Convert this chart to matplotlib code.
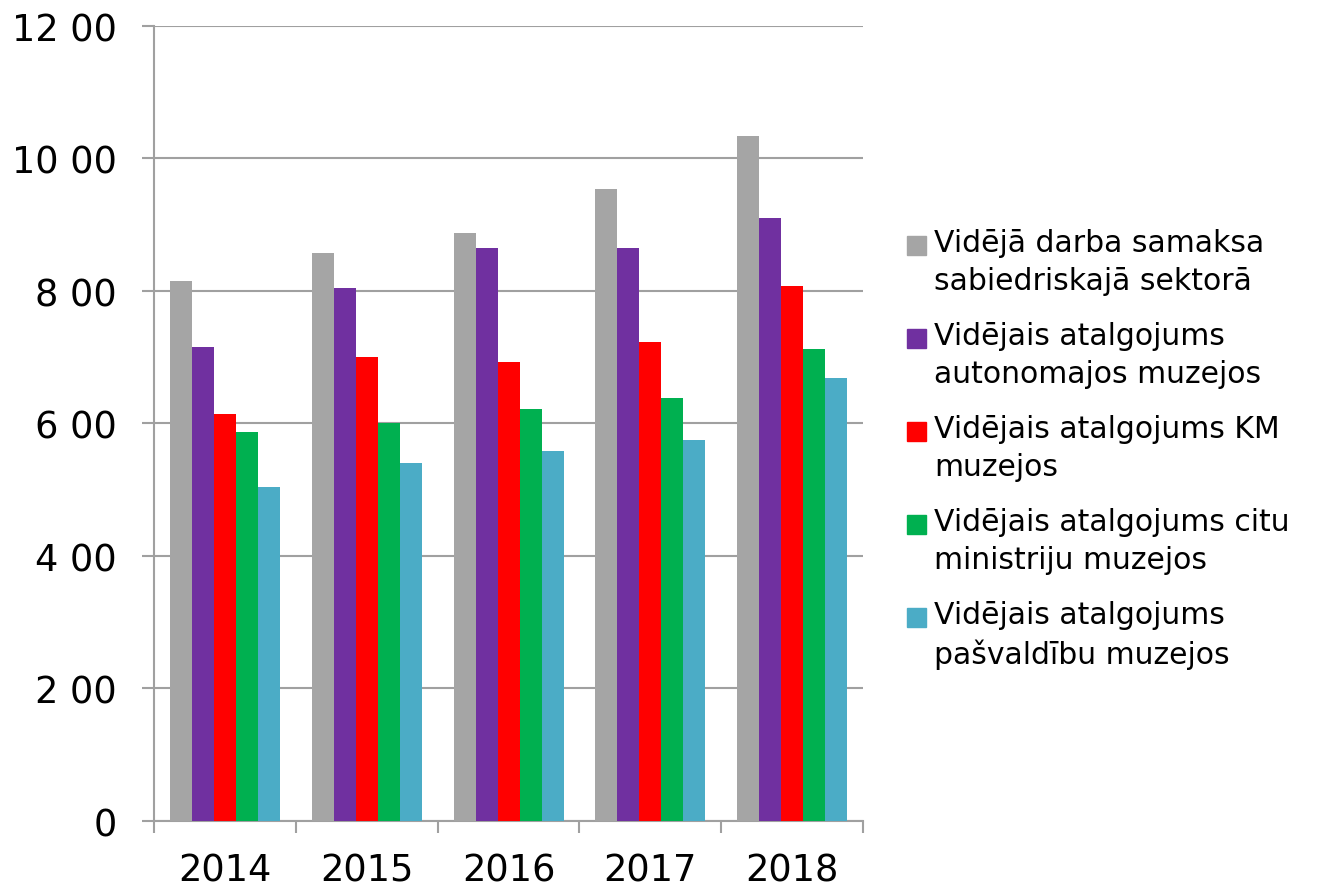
import matplotlib
matplotlib.use("Agg")
import matplotlib.pyplot as plt
from matplotlib.patches import Rectangle
import numpy as np

plt.rcParams['font.family'] = ['DejaVu Sans']

years = ["2014", "2015", "2016", "2017", "2018"]
series_names = [
    "Vidējā darba samaksa\nsabiedriskajā sektorā",
    "Vidējais atalgojums\nautonomajos muzejos",
    "Vidējais atalgojums KM\nmuzejos",
    "Vidējais atalgojums citu\nministriju muzejos",
    "Vidējais atalgojums\npašvaldību muzejos",
]
sabiedriskais = [815, 857, 888, 954, 1034]
autonomie = [715, 805, 865, 865, 910]
km_muzeji = [614, 700, 693, 723, 808]
citu_ministriju = [587, 601, 622, 638, 712]
pasvaldibu = [504, 540, 558, 575, 669]
series = [sabiedriskais, autonomie, km_muzeji, citu_ministriju, pasvaldibu]
colors = ["#A5A5A5", "#7030A0", "#FF0000", "#00B050", "#4BACC6"]
yticks = [0, 200, 400, 600, 800, 1000, 1200]
ytick_labels = ["0", "2 00", "4 00", "6 00", "8 00", "10 00", "12 00"]

fig = plt.figure(figsize=(13.23, 8.87), dpi=100)
ax = fig.add_axes([0.1164, 0.0733, 0.536, 0.8963])

x = np.arange(len(years))
w = 0.155
for i, (vals, c) in enumerate(zip(series, colors)):
    ax.bar(x + (i - 2) * w, vals, width=w, color=c, zorder=3)

ax.set_xlim(-0.5, len(years) - 0.5)
ax.set_ylim(0, 1200)
ax.set_yticks(yticks)
ax.set_yticklabels(ytick_labels, fontsize=26.5)
ax.set_xticks(x)
ax.set_xticklabels(years, fontsize=26.5)
ax.set_xticks(np.arange(len(years) + 1) - 0.5, minor=True)

gc = "#A0A0A0"
ax.grid(axis='y', color=gc, linewidth=1.5, zorder=0)
for s in ["top", "right"]:
    ax.spines[s].set_visible(False)
for s in ["left", "bottom"]:
    ax.spines[s].set_color(gc)
    ax.spines[s].set_linewidth(1.5)
ax.tick_params(axis='y', length=8.6, width=1.5, color=gc, pad=18)
ax.tick_params(axis='x', which='major', length=0, pad=22)
ax.tick_params(axis='x', which='minor', length=8.6, width=1.5, color=gc, direction='out')

# legend drawn by hand so the swatch sits on the first line of each label
top_y = 1 - 246 / 887
step = 93 / 887
for i, (name, c) in enumerate(zip(series_names, colors)):
    yc = top_y - i * step
    fig.add_artist(Rectangle((907 / 1323, yc - 9.5 / 887), 19 / 1323, 19 / 887,
                             transform=fig.transFigure, color=c))
    fig.text(934 / 1323, yc + 17 / 887, name, fontsize=21.5, va='top', ha='left',
             linespacing=1.38)

fig.savefig("out.png", dpi=100)
